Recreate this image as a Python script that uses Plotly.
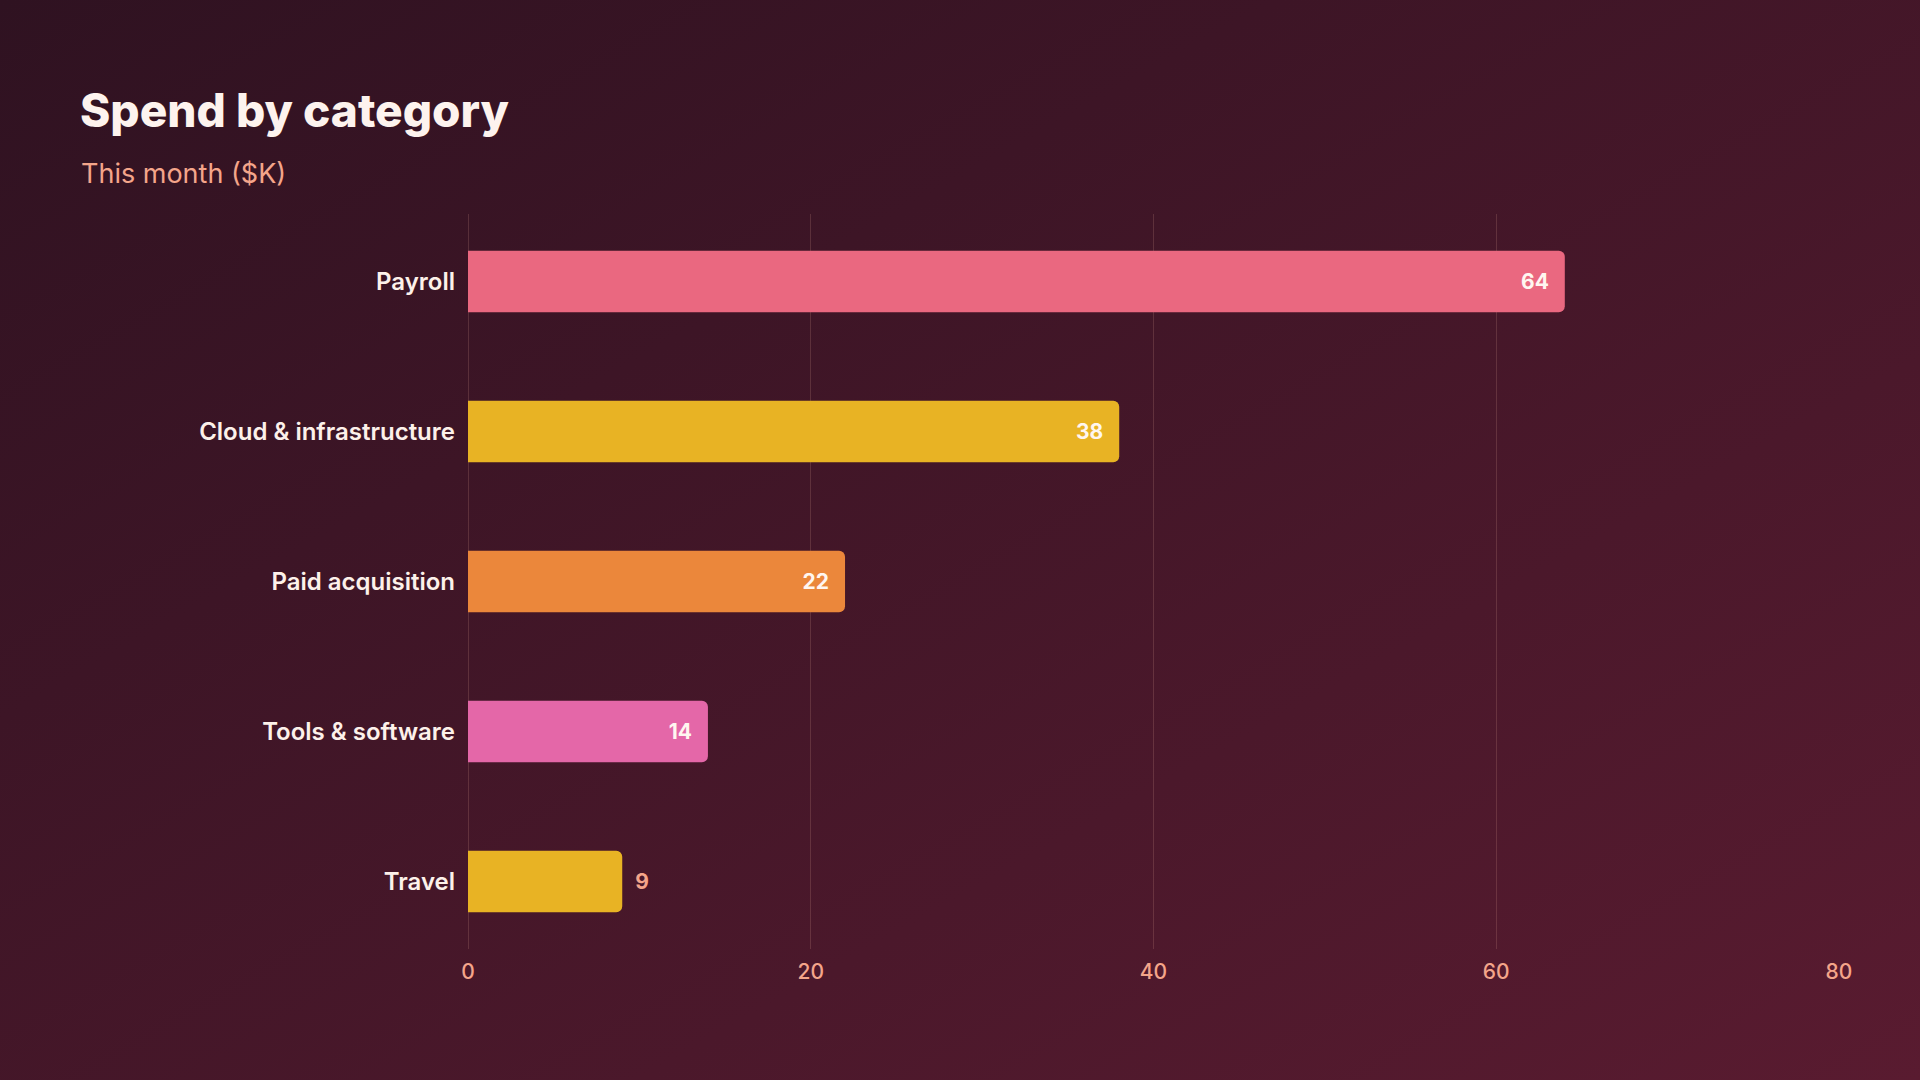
import base64
import plotly.graph_objects as go

# data
categories = ["Payroll", "Cloud & infrastructure", "Paid acquisition", "Tools & software", "Travel"]
spend_k = [64, 38, 22, 14, 9]
bar_colors = ["#ea6880", "#e8b324", "#eb873b", "#e467a8", "#e8b324"]
x_ticks = [0, 20, 40, 60, 80]

W, H = 1920, 1080
ML, MR, MT, MB = 468, 81, 214, 131
pw, ph = W - ML - MR, H - MT - MB

# small values sit outside the bar
positions = ["inside" if v >= 10 else "outside" for v in spend_k]
labels = [("%d\u00a0\u00a0" % v) if p == "inside" else ("\u00a0\u00a0%d" % v) for v, p in zip(spend_k, positions)]

bg_svg = ('<svg xmlns="http://www.w3.org/2000/svg" width="1920" height="1080" viewBox="0 0 1920 1080" preserveAspectRatio="none">'
          '<defs><linearGradient id="g" x1="0" y1="0" x2="1" y2="1">'
          '<stop offset="0" stop-color="#2f1221"/><stop offset="1" stop-color="#591b30"/>'
          '</linearGradient></defs><rect width="1920" height="1080" fill="url(#g)"/></svg>')
bg_uri = "data:image/svg+xml;base64," + base64.b64encode(bg_svg.encode()).decode()

fig = go.Figure(go.Bar(
    y=categories, x=spend_k, orientation="h",
    marker=dict(color=bar_colors, line=dict(width=0), cornerradius=6),
    width=0.41,
    text=labels, textposition=positions, insidetextanchor="end",
    insidetextfont=dict(family="Inter", size=21, color="#fff6f0", weight=700),
    outsidetextfont=dict(family="Inter", size=21, color="#f4a58a", weight=700),
    cliponaxis=False, hoverinfo="skip",
))

fig.update_layout(
    width=W, height=H,
    margin=dict(l=ML, r=MR, t=MT, b=MB),
    paper_bgcolor="#43172a", plot_bgcolor="rgba(0,0,0,0)",
    showlegend=False,
    font=dict(family="Inter", color="#fdf1ea"),
    images=[dict(source=bg_uri, xref="paper", yref="paper",
                 x=-ML / pw, y=1 + MT / ph, sizex=W / pw, sizey=H / ph,
                 sizing="stretch", xanchor="left", yanchor="top", layer="below")],
    annotations=[
        dict(text="Spend by category", xref="paper", yref="paper",
             x=(78 - ML) / pw, y=1 + (MT - 110) / ph, xanchor="left", yanchor="middle",
             showarrow=False, font=dict(family="Inter", size=46, color="#fdf3ee", weight=800)),
        dict(text="This month ($K)", xref="paper", yref="paper",
             x=(79 - ML) / pw, y=1 + (MT - 174) / ph, xanchor="left", yanchor="middle",
             showarrow=False, font=dict(family="Inter", size=27, color="#f4a58a")),
    ],
)

fig.update_xaxes(
    range=[0, 80], tickvals=x_ticks, showgrid=True,
    gridcolor="rgba(255,190,170,0.16)", gridwidth=1,
    zeroline=True, zerolinecolor="rgba(255,190,170,0.16)", zerolinewidth=1,
    showline=False, ticks="", ticklabelstandoff=8,
    tickfont=dict(family="Inter", size=21, color="#f4a58a", weight=500),
)
fig.update_yaxes(
    type="category", categoryorder="array", categoryarray=categories,
    range=[4.45, -0.45], showgrid=False, zeroline=False, showline=False,
    ticks="", ticklabelstandoff=12,
    tickfont=dict(family="Inter", size=24, color="#fdf1ea", weight=600),
)

fig.write_html("out.html", config={"displayModeBar": False},
               post_script="document.body.style.margin='0';")
